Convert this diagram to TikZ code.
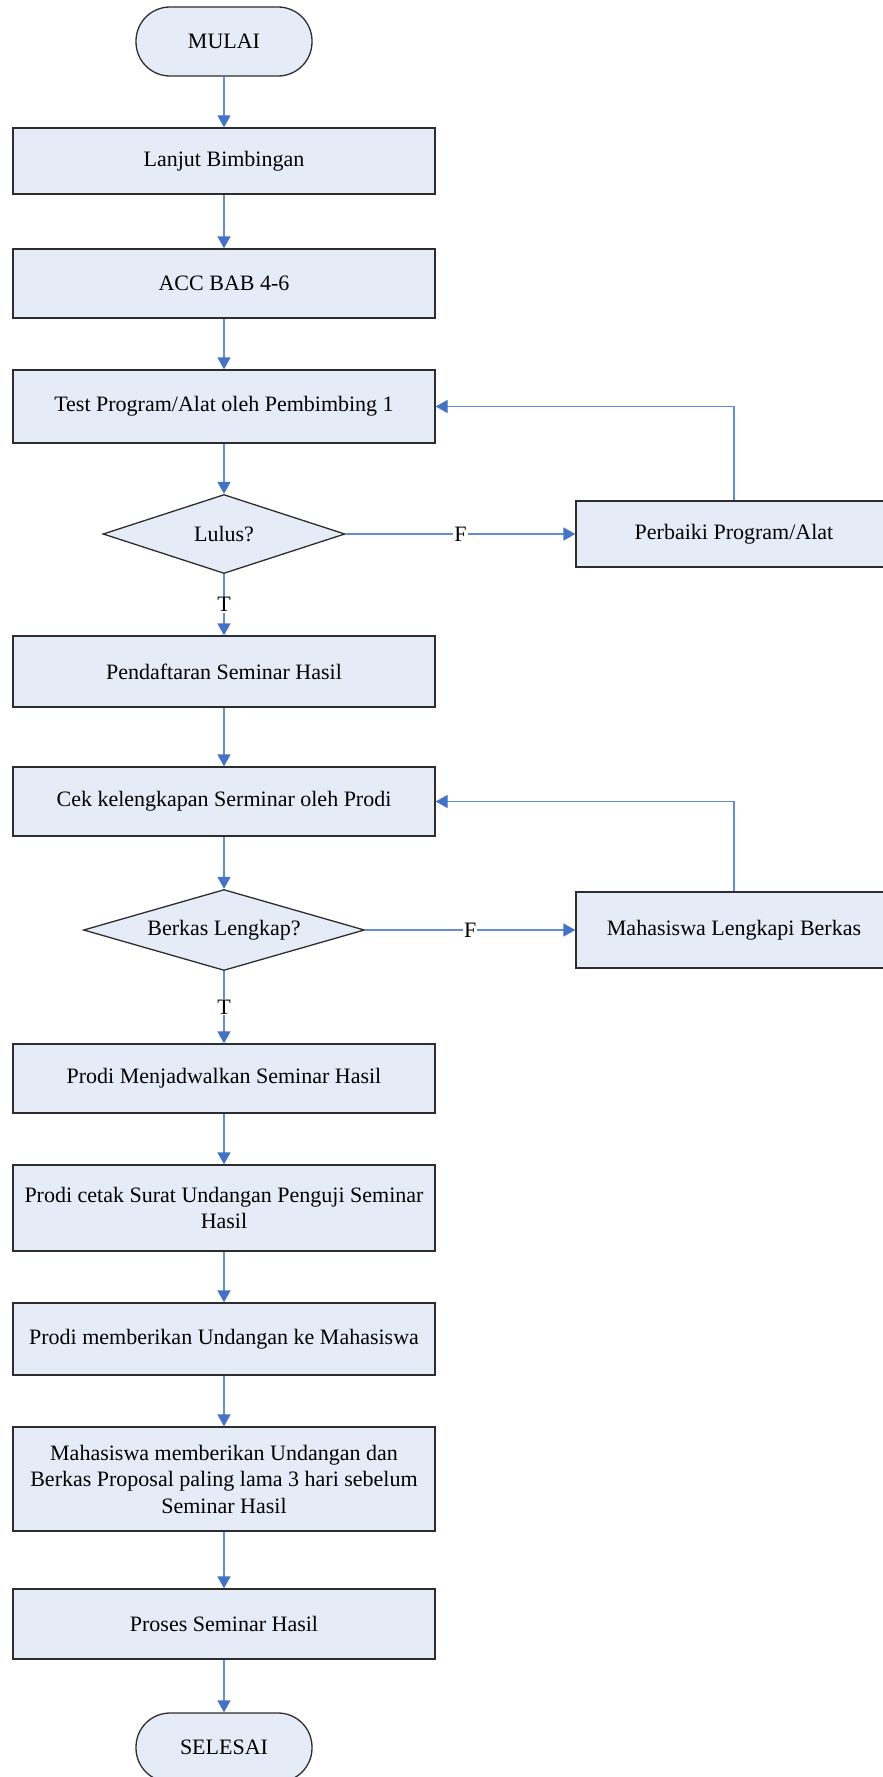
\documentclass[tikz,border=0pt]{standalone}
\usepackage{fontspec}
\setmainfont{Liberation Serif}
\usetikzlibrary{arrows.meta,shapes.geometric}
\definecolor{boxfill}{RGB}{230,236,247}
\definecolor{boxline}{RGB}{45,45,45}
\definecolor{linec}{RGB}{100,140,208}
\definecolor{tipc}{RGB}{68,114,196}
\tikzset{
 base/.style={draw=boxline, fill=boxfill, line width=1.3pt, font=\fontsize{22}{26.5}\selectfont, align=center, inner sep=0pt},
 proc/.style={base, rectangle, minimum width=422pt},
 term/.style={base, rectangle, rounded corners=34pt, minimum width=176pt, minimum height=69pt},
 dec/.style={base, diamond},
 conn/.style={draw=linec, line width=1.3pt, -{Triangle[width=13pt,length=12pt,color=tipc]}},
 lbl/.style={fill=white, inner sep=1pt, font=\fontsize{22}{26}\selectfont}
}
\begin{document}
\begin{tikzpicture}[x=1pt,y=-1pt]
\useasboundingbox (0,0) rectangle (883,1777);
\clip (0,0) rectangle (883,1777);
\node[term] (start) at (224,41.5) {MULAI};
\node[proc, minimum height=66pt] (p1) at (224,161) {Lanjut Bimbingan};
\node[proc, minimum height=69pt] (p2) at (224,283.5) {ACC BAB 4-6};
\node[proc, minimum height=73pt] (p3) at (224,406.5) {Test Program/Alat oleh Pembimbing 1};
\node[dec, aspect=3.06, minimum width=242pt, minimum height=79pt] (d1) at (224,534) {Lulus?};
\node[proc, minimum width=316pt, minimum height=66pt] (r1) at (734,534) {Perbaiki Program/Alat};
\node[proc, minimum height=71pt] (p4) at (224,671.5) {Pendaftaran Seminar Hasil};
\node[proc, minimum height=69pt] (p5) at (224,801.5) {Cek kelengkapan Serminar oleh Prodi};
\node[dec, aspect=3.47, minimum width=281pt, minimum height=81pt] (d2) at (224,930) {Berkas Lengkap?};
\node[proc, minimum width=316pt, minimum height=76pt] (r2) at (734,930) {Mahasiswa Lengkapi Berkas};
\node[proc, minimum height=69pt] (p6) at (224,1078.5) {Prodi Menjadwalkan Seminar Hasil};
\node[proc, minimum height=86pt] (p7) at (224,1208) {Prodi cetak Surat Undangan Penguji Seminar\\Hasil};
\node[proc, minimum height=72pt] (p8) at (224,1339) {Prodi memberikan Undangan ke Mahasiswa};
\node[proc, minimum height=104pt] (p9) at (224,1479) {Mahasiswa memberikan Undangan dan\\Berkas Proposal paling lama 3 hari sebelum\\Seminar Hasil};
\node[proc, minimum height=70pt] (p10) at (224,1624) {Proses Seminar Hasil};
\node[term] (end) at (224,1747.5) {SELESAI};
\draw[conn] (start) -- (p1);
\draw[conn] (p1) -- (p2);
\draw[conn] (p2) -- (p3);
\draw[conn] (p3) -- (d1);
\draw[conn] (d1) -- node[lbl]{T} (p4);
\draw[conn] (d1) -- node[lbl]{F} (r1);
\draw[conn] (r1.north) |- (p3.east);
\draw[conn] (p4) -- (p5);
\draw[conn] (p5) -- (d2);
\draw[conn] (d2) -- node[lbl]{T} (p6);
\draw[conn] (d2) -- node[lbl]{F} (r2);
\draw[conn] (r2.north) |- (p5.east);
\draw[conn] (p6) -- (p7);
\draw[conn] (p7) -- (p8);
\draw[conn] (p8) -- (p9);
\draw[conn] (p9) -- (p10);
\draw[conn] (p10) -- (end);
\end{tikzpicture}
\end{document}
